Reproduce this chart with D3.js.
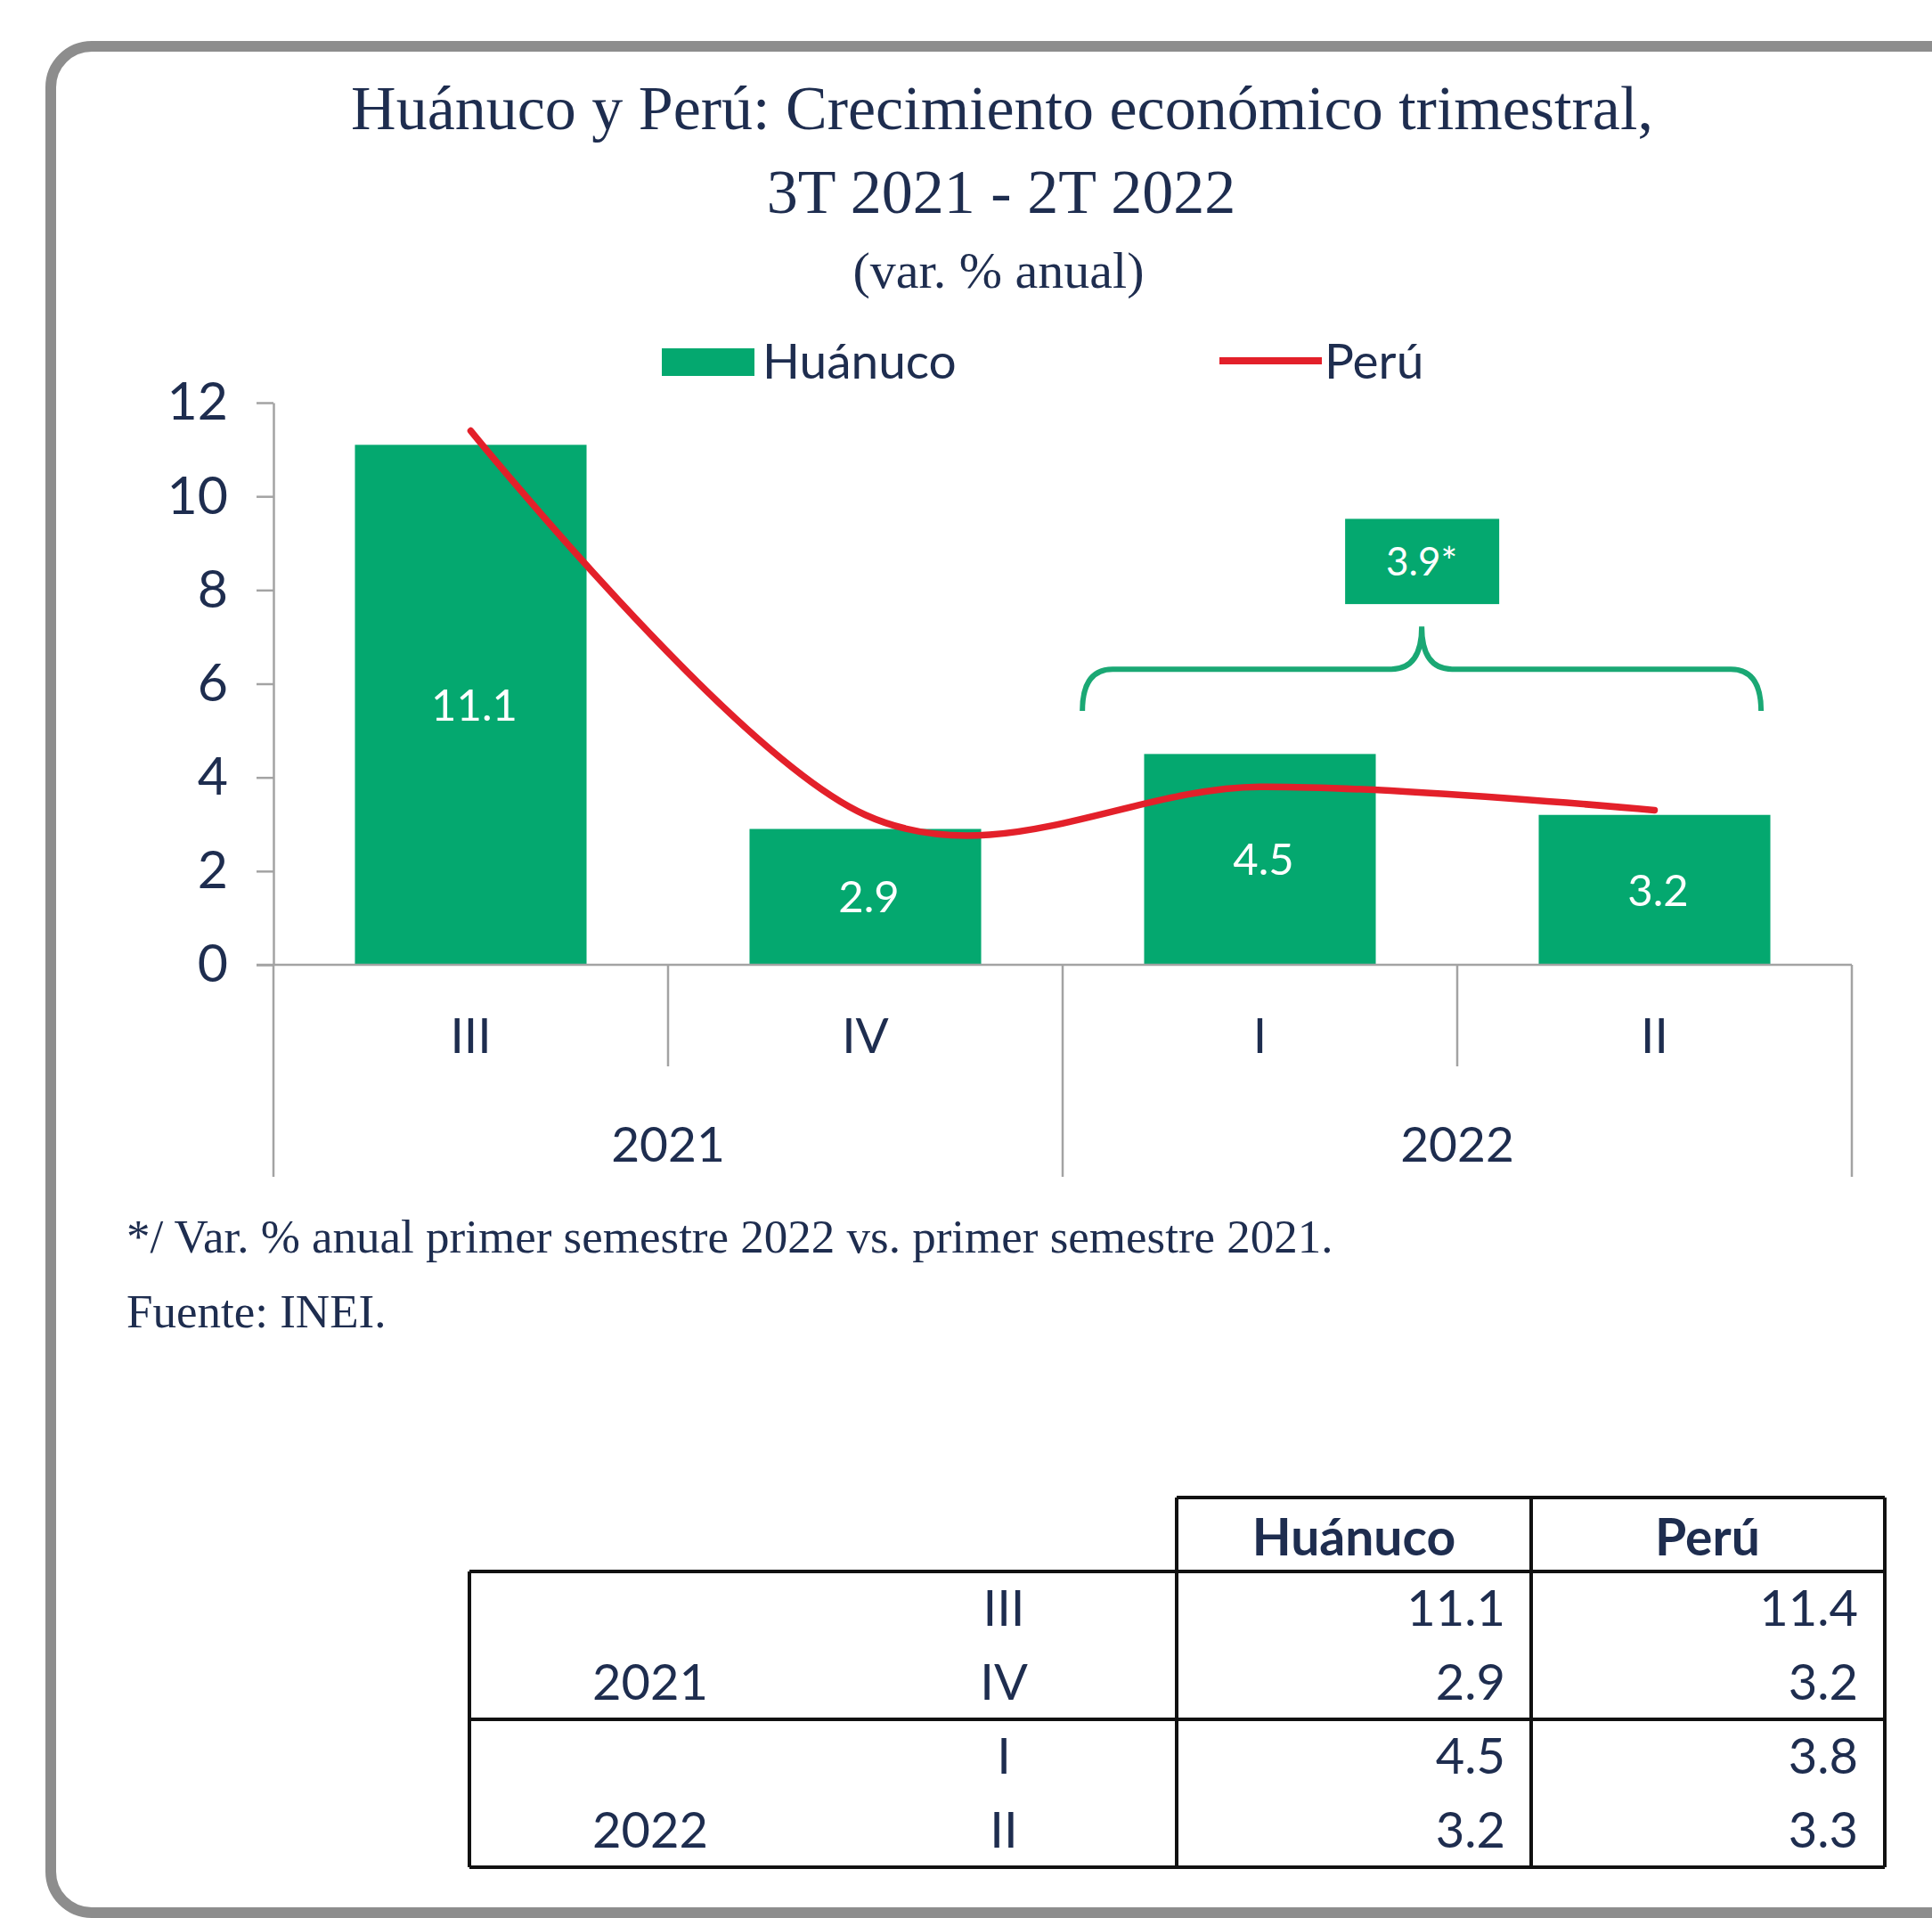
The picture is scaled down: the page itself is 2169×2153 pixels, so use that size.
<!DOCTYPE html>
<html>
<head>
<meta charset="utf-8">
<script src="https://cdn.jsdelivr.net/npm/d3@7"></script>
<style>
  body { margin: 0; background: #fff; }
  .serif { font-family: "Liberation Serif", "Times New Roman", serif; fill: #1e2d4f; }
  .sans { font-family: Lato, "Open Sans", sans-serif; fill: #1e2d4f; }
</style>
</head>
<body>
<div id="chart"></div>
<script>
var quarters = ["III", "IV", "I", "II"];
var years = ["2021", "2021", "2022", "2022"];
var huanuco = [11.1, 2.9, 4.5, 3.2];
var peru = [11.4, 3.2, 3.8, 3.3];
var yTicks = [0, 2, 4, 6, 8, 10, 12];
var semesterGrowth = "3.9*";

var green = "#04a86f", red = "#e3202a", navy = "#1e2d4f", grey = "#a3a3a3";

var W = 2169, H = 2153;
var svg = d3.select("#chart")
  .append("svg")
    .attr("width", W)
    .attr("height", H);

// rounded grey frame (runs off the right edge like the picture)
svg.append("rect")
  .attr("x", 57).attr("y", 52)
  .attr("width", 2250).attr("height", 2095)
  .attr("rx", 46)
  .attr("fill", "none")
  .attr("stroke", "#8d8d8d")
  .attr("stroke-width", 12);

// titles
svg.append("text").attr("class", "serif")
  .attr("x", 1125).attr("y", 145)
  .attr("text-anchor", "middle")
  .style("font-size", "70px")
  .text("Huánuco y Perú: Crecimiento económico trimestral,");
svg.append("text").attr("class", "serif")
  .attr("x", 1124).attr("y", 239)
  .attr("text-anchor", "middle")
  .style("font-size", "70px")
  .text("3T 2021 - 2T 2022");
svg.append("text").attr("class", "serif")
  .attr("x", 1121).attr("y", 323)
  .attr("text-anchor", "middle")
  .style("font-size", "58px")
  .text("(var. % anual)");

// scales
var x = d3.scaleBand()
  .domain(quarters.map((d, i) => i))
  .range([307, 2079])
  .paddingInner(0.413)
  .paddingOuter(0.2065);

var y = d3.scaleLinear()
  .domain([0, 12])
  .range([1083, 452]);

var step = x.step();
var bandStart = (i) => 307 + i * step;   // category boundaries
var cx = (i) => x(i) + x.bandwidth() / 2;

// Y axis
var yAxis = svg.append("g")
  .attr("transform", "translate(307,0)")
  .call(d3.axisLeft(y)
    .tickValues(yTicks)
    .tickSize(19)
    .tickPadding(32)
    .tickSizeOuter(0));
yAxis.select(".domain").attr("stroke", grey).attr("stroke-width", 2.5);
yAxis.selectAll(".tick line").attr("stroke", grey).attr("stroke-width", 2.5);
yAxis.selectAll(".tick text")
  .attr("class", "sans")
  .style("font-size", "59px")
  .attr("fill", navy);

// bars
svg.append("g")
  .selectAll("rect")
  .data(huanuco)
  .enter()
    .append("rect")
    .attr("x", (d, i) => x(i))
    .attr("y", d => y(d))
    .attr("width", x.bandwidth())
    .attr("height", d => y(0) - y(d))
    .attr("fill", green);

// bar labels
svg.append("g")
  .selectAll("text")
  .data(huanuco)
  .enter()
    .append("text")
    .attr("class", "sans")
    .attr("x", (d, i) => cx(i) + 4)
    .attr("y", d => (y(d) + y(0)) / 2)
    .attr("dy", "0.36em")
    .attr("text-anchor", "middle")
    .style("font-size", "49px")
    .style("fill", "#fff")
    .text(d => d.toFixed(1));

// x axis line and category separators
var sep = svg.append("g").attr("stroke", grey).attr("stroke-width", 2.5);
sep.append("line")
  .attr("x1", 288).attr("x2", bandStart(4))
  .attr("y1", y(0)).attr("y2", y(0));
quarters.concat([""]).forEach((q, i) => {
  var isYear = (i === 0 || i === 4 || years[i] !== years[i - 1]);
  sep.append("line")
    .attr("x1", bandStart(i)).attr("x2", bandStart(i))
    .attr("y1", y(0)).attr("y2", isYear ? 1321 : 1197);
});

// quarter labels
svg.append("g")
  .selectAll("text")
  .data(quarters)
  .enter()
    .append("text")
    .attr("class", "sans")
    .attr("x", (d, i) => cx(i))
    .attr("y", 1162)
    .attr("dy", "0.36em")
    .attr("text-anchor", "middle")
    .style("font-size", "55px")
    .text(d => d);

// year labels, centred on each year's span
var yearList = Array.from(new Set(years));
yearList.forEach(yr => {
  var idx = years.map((d, i) => d === yr ? i : -1).filter(i => i >= 0);
  var mid = (bandStart(idx[0]) + bandStart(idx[idx.length - 1] + 1)) / 2;
  svg.append("text")
    .attr("class", "sans")
    .attr("x", mid).attr("y", 1284)
    .attr("dy", "0.36em")
    .attr("text-anchor", "middle")
    .style("font-size", "55px")
    .text(yr);
});

// Peru line (smoothed like Excel)
var line = d3.line()
  .x((d, i) => cx(i))
  .y(d => y(d))
  .curve(d3.curveCardinal.tension(0));
svg.append("path")
  .datum(peru)
  .attr("d", line)
  .attr("fill", "none")
  .attr("stroke", red)
  .attr("stroke-width", 7.5)
  .attr("stroke-linecap", "round");

// brace over 2022 with semester growth box
var xL = bandStart(2) + 0.05 * step;
var xR = bandStart(3) + 0.77 * step;
var xM = (xL + xR) / 2;
var yEnd = y(5.42), yH = y(6.31), yPeak = y(7.22), r = 34;
svg.append("path")
  .attr("d", "M" + xL + "," + yEnd +
    " Q" + xL + "," + yH + " " + (xL + r) + "," + yH +
    " L" + (xM - r) + "," + yH +
    " Q" + xM + "," + yH + " " + xM + "," + yPeak +
    " Q" + xM + "," + yH + " " + (xM + r) + "," + yH +
    " L" + (xR - r) + "," + yH +
    " Q" + xR + "," + yH + " " + xR + "," + yEnd)
  .attr("fill", "none")
  .attr("stroke", "#1aa874")
  .attr("stroke-width", 6);

svg.append("rect")
  .attr("x", xM - 86).attr("y", y(9.52))
  .attr("width", 173).attr("height", y(7.7) - y(9.52))
  .attr("fill", green);
svg.append("text")
  .attr("class", "sans")
  .attr("x", xM).attr("y", (y(9.52) + y(7.7)) / 2)
  .attr("dy", "0.36em")
  .attr("text-anchor", "middle")
  .style("font-size", "44px")
  .style("fill", "#fff")
  .text(semesterGrowth);

// legend
svg.append("rect")
  .attr("x", 743).attr("y", 391)
  .attr("width", 104).attr("height", 31)
  .attr("fill", green);
svg.append("text").attr("class", "sans")
  .attr("x", 856).attr("y", 405).attr("dy", "0.36em")
  .style("font-size", "55px")
  .text("Huánuco");
svg.append("line")
  .attr("x1", 1369).attr("x2", 1484)
  .attr("y1", 405).attr("y2", 405)
  .attr("stroke", red).attr("stroke-width", 8);
svg.append("text").attr("class", "sans")
  .attr("x", 1487).attr("y", 405).attr("dy", "0.36em")
  .style("font-size", "55px")
  .text("Perú");

// notes
svg.append("text").attr("class", "serif")
  .attr("x", 142).attr("y", 1406)
  .style("font-size", "53px")
  .text("*/ Var. % anual primer semestre 2022 vs. primer semestre 2021.");
svg.append("text").attr("class", "serif")
  .attr("x", 142).attr("y", 1490)
  .style("font-size", "53px")
  .text("Fuente: INEI.");

// data table under the chart
var tx = [527, 1321, 1719, 2116];
var rowY = [1805, 1888, 1971, 2054];
var tb = svg.append("g").attr("stroke", "#111").attr("stroke-width", 4);
tb.append("line").attr("x1", tx[1]).attr("x2", tx[3]).attr("y1", 1681).attr("y2", 1681);
[1764, 1930, 2096].forEach(v => {
  tb.append("line").attr("x1", tx[0]).attr("x2", tx[3]).attr("y1", v).attr("y2", v);
});
tb.append("line").attr("x1", tx[0]).attr("x2", tx[0]).attr("y1", 1764).attr("y2", 2096);
tx.slice(1).forEach(v => {
  tb.append("line").attr("x1", v).attr("x2", v).attr("y1", 1681).attr("y2", 2096);
});

[["Huánuco", 1520], ["Perú", 1917]].forEach(h => {
  svg.append("text").attr("class", "sans")
    .attr("x", h[1]).attr("y", 1725).attr("dy", "0.36em")
    .attr("text-anchor", "middle")
    .style("font-size", "57px").style("font-weight", "bold")
    .text(h[0]);
});

quarters.forEach((q, i) => {
  if (i === years.length - 1 || years[i] !== years[i + 1]) {
    svg.append("text").attr("class", "sans")
      .attr("x", 730).attr("y", rowY[i]).attr("dy", "0.36em")
      .attr("text-anchor", "middle")
      .style("font-size", "56px")
      .text(years[i]);
  }
  svg.append("text").attr("class", "sans")
    .attr("x", 1127).attr("y", rowY[i]).attr("dy", "0.36em")
    .attr("text-anchor", "middle")
    .style("font-size", "56px")
    .text(q);
  svg.append("text").attr("class", "sans")
    .attr("x", 1690).attr("y", rowY[i]).attr("dy", "0.36em")
    .attr("text-anchor", "end")
    .style("font-size", "56px")
    .text(huanuco[i].toFixed(1));
  svg.append("text").attr("class", "sans")
    .attr("x", 2086).attr("y", rowY[i]).attr("dy", "0.36em")
    .attr("text-anchor", "end")
    .style("font-size", "56px")
    .text(peru[i].toFixed(1));
});
</script>
</body>
</html>
